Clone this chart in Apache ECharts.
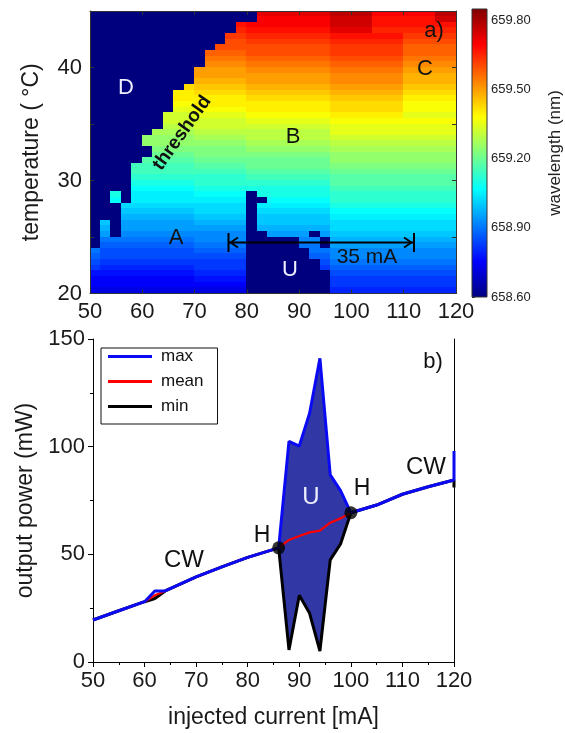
<!DOCTYPE html>
<html>
<head>
<meta charset="utf-8">
<title>wavelength map and output power</title>
<script src="https://cdn.jsdelivr.net/npm/echarts@6/dist/echarts.min.js"></script>
<style>
  html, body { margin: 0; padding: 0; background: #fff; }
  #main { width: 565px; height: 733px; }
</style>
</head>
<body>
<div id="main"></div>
<script>
// ---- a) wavelength map: 2 mA x 0.5 degC cells ----
// left edge of every current column (mA)
const colCurrents = [50, 52, 54, 56, 58, 60, 62, 64, 66, 68, 70, 72, 74, 76, 78, 80, 82, 84,
  86, 88, 90, 92, 94, 96, 98, 100, 102, 104, 106, 108, 110, 112, 114, 116, 118]
// bottom edge of every temperature row (degC), top row first
const rowTemps = [44.5, 44, 43.5, 43, 42.5, 42, 41.5, 41, 40.5, 40, 39.5, 39, 38.5, 38, 37.5, 37,
  36.5, 36, 35.5, 35, 34.5, 34, 33.5, 33, 32.5, 32, 31.5, 31, 30.5, 30, 29.5, 29, 28.5, 28,
  27.5, 27, 26.5, 26, 25.5, 25, 24.5, 24, 23.5, 23, 22.5, 22, 21.5, 21, 20.5, 20]
// wavelength level per cell, run length coded: "7T" = 7 cells of level T
// level chars below, each step +0.025 nm from 658.60 ; "." = no lasing (D / U regions)
const levelChars = 'abcdefghijklmnopqrstuvwxyzABCDEFGHIJKLMNOPQRSTUVWXY'
const wlRows = [
  '16. 7T 4V 6S 2V',
  '16. 7S 4U 6R 2U',
  '14. 1R 8S 4U 8R',
  '14. 1Q 8R 4T 8Q',
  '13. 2P 8Q 7R 5P',
  '13. 2O 8P 7Q 5O',
  '12. 11O 7P 5N',
  '11. 4N 8O 7P 5N',
  '11. 4M 8N 7O 5M',
  '11. 4L 8M 7N 5L',
  '10. 5K 8L 7M 5K',
  '10. 13K 7L 5J',
  '10. 5J 8K 7L 5J',
  '9. 1H 5I 8J 7K 5I',
  '8. 2G 5H 8I 7J 5H',
  '8. 7G 8H 7I 5G',
  '8. 2F 13G 7H 5F',
  '8. 2E 5F 8G 7H 5F',
  '7. 3D 5E 8F 7G 5E',
  '7. 8D 8E 12F',
  '7. 3C 13D 12E',
  '6. 4B 13C 12E',
  '5. 5A 5B 8C 12D',
  '5. 10A 8B 12C',
  '6. 9z 8A 12B',
  '6. 4y 13z 12A',
  '5. 5x 13y 12A',
  '4. 6w 5x 8y 12z',
  '4. 11w 8x 12y',
  '4. 11v 8w 12x',
  '4. 6u 13v 12x',
  '4. 6t 13u 12w',
  '2. 1u 1. 6s 5t 1. 7u 12v',
  '2. 1t 1. 11s 2. 6t 12v',
  '3. 12r 1. 7s 12u',
  '3. 7q 5r 1. 7r 12t',
  '3. 7p 5q 1. 7q 12s',
  '1. 1q 1. 7o 5p 1. 7q 12r',
  '1. 1p 1. 12o 1. 7p 12r',
  '1. 1o 1. 12n 2. 4o 1. 1o 12q',
  '1. 9m 5n 5. 2n 1. 12p',
  '1. 9l 5m 5. 2m 1. 12o',
  '1m 9k 5l 6. 2m 12n',
  '1l 14k 6. 2l 12n',
  '1k 14j 7. 1k 12m',
  '1j 9i 5j 7. 1j 12l',
  '10h 5i 8. 12k',
  '10g 5h 8. 12j',
  '15g 8. 12j',
  '15f 8. 12i'
]
const wlMin = 658.60
const wlMax = 659.85
const wlStep = 0.025
const cbTicks = 0.3

// ---- b) output power vs injected current ----
const current   = [50, 55, 60, 62, 64, 70, 75, 80, 86, 88, 90, 92, 94, 96, 98, 100, 105, 110, 115, 120, 120]
const powerMax  = [19.5, 23.8, 28, 33, 33, 39.5, 44.2, 48.6, 53, 102.5, 100.3, 115.5, 141, 86.9, 79.6, 69.3, 72.9, 77.9, 81.4, 84.5, 98]
const powerMean = [19.5, 23.8, 28, 31, 33, 39.5, 44.2, 48.6, 53, 56.7, 58.5, 60.2, 61, 64.7, 66.7, 69.3, 72.9, 77.9, 81.4, 84.5, 84.5]
const powerMin  = [19.5, 23.8, 28, 29.5, 33, 39.5, 44.2, 48.6, 53, 5.6, 31, 22.6, 5.1, 47.4, 54.8, 69.3, 72.9, 77.9, 81.4, 84.5, 81]
const hopfCurrent = [86, 100]
const hopfPower = [53, 69.3]
const unstableFrom = 86
const unstableTo = 100

const jetColors = ['#00007f', '#0000ff', '#007fff', '#00ffff', '#7fff7f', '#ffff00', '#ff7f00', '#ff0000', '#7f0000']
const font = 'Liberation Sans, Arial, sans-serif'

// decode the map
const cells = []
rowTemps.forEach((t, r) => {
  let c = 0
  wlRows[r].split(' ').forEach(run => {
    const n = parseInt(run, 10)
    const ch = run[run.length - 1]
    for (let k = 0; k < n; k++) {
      const v = ch === '.' ? wlMin : wlMin + wlStep * levelChars.indexOf(ch)
      cells.push([colCurrents[c], t, v])
      c++
    }
  })
})

const zip = (xs, ys) => xs.map((x, i) => [x, ys[i]])

// band between min and max inside the unstable range
const bandTop = [], bandBottom = []
current.forEach((x, i) => {
  if (x >= unstableFrom && x <= unstableTo) {
    bandTop.push([x, powerMax[i]])
    bandBottom.push([x, powerMin[i]])
  }
})

function renderCell(params, api) {
  const x0 = api.value(0)
  const t0 = api.value(1)
  const a = api.coord([x0, t0 + 0.5])
  const b = api.coord([x0 + 2, t0])
  const x = Math.floor(a[0]), y = Math.floor(a[1])
  return {
    type: 'rect',
    shape: { x: x, y: y, width: Math.ceil(b[0]) - x, height: Math.ceil(b[1]) - y },
    style: { fill: api.visual('color') }
  }
}

function renderColorbar(params, api) {
  const a = api.coord([0, wlMax - wlMin])
  const b = api.coord([1, 0])
  const stops = jetColors.map((c, i) => ({ offset: i / (jetColors.length - 1), color: c }))
  return {
    type: 'rect',
    shape: { x: a[0], y: a[1], width: b[0] - a[0], height: b[1] - a[1] },
    style: { fill: new echarts.graphic.LinearGradient(0, 1, 0, 0, stops), stroke: '#333', lineWidth: 1 }
  }
}

function renderBand(params, api) {
  const pts = bandTop.map(p => api.coord(p))
    .concat(bandBottom.slice().reverse().map(p => api.coord(p)))
  return {
    type: 'polygon',
    shape: { points: pts },
    style: { fill: '#3138a6' }
  }
}

// text annotation helper
function note(x, y, text, size, color, extra) {
  return Object.assign({
    type: 'text', x: x, y: y, z: 100,
    style: { text: text, fontSize: size, fill: color, align: 'center', verticalAlign: 'middle', fontFamily: font }
  }, extra || {})
}
function stroke(type, shape, width) {
  return { type: type, z: 100, shape: shape, style: { stroke: '#000', lineWidth: width, fill: null } }
}

const label = { fontSize: 22, color: '#1a1a1a', fontFamily: font }
const frame = { show: true, lineStyle: { color: '#000', width: 1 } }

const option = {
  animation: false,
  textStyle: { fontFamily: font },
  grid: [
    { left: 90, top: 11, width: 366, height: 282.5 },
    { left: 472, top: 9, width: 15, height: 288 },
    { left: 93, top: 339, width: 361, height: 323 }
  ],
  visualMap: {
    type: 'continuous', show: false, seriesIndex: 0, dimension: 2,
    min: wlMin, max: wlMax, inRange: { color: jetColors }
  },
  legend: {
    data: ['max', 'mean', 'min'],
    orient: 'vertical', left: 101, top: 348,
    icon: 'rect', itemWidth: 44, itemHeight: 3, itemGap: 8,
    padding: [0, 14, 9, 7],
    borderColor: '#111', borderWidth: 1, borderRadius: 0,
    textStyle: { fontSize: 17, lineHeight: 15, color: '#111', padding: [0, 0, 0, 4] }
  },
  xAxis: [
    {
      gridIndex: 0, type: 'value', min: 50, max: 120, interval: 10, z: 10,
      axisLine: { show: true, lineStyle: { color: '#333' } },
      axisTick: { inside: true, length: 4, lineStyle: { color: '#333' } },
      axisLabel: Object.assign({ margin: 7 }, label),
      splitLine: { show: false }
    },
    {
      gridIndex: 0, type: 'value', position: 'top', min: 50, max: 120, interval: 10, z: 10,
      axisLine: { show: true, lineStyle: { color: '#333' } },
      axisTick: { inside: true, length: 4, lineStyle: { color: '#333' } },
      axisLabel: { show: false }, splitLine: { show: false }
    },
    {
      gridIndex: 2, type: 'value', min: 50, max: 120, interval: 10,
      name: 'injected current [mA]', nameLocation: 'middle', nameGap: 44,
      nameTextStyle: { fontSize: 23, color: '#1a1a1a' },
      axisLine: frame,
      axisTick: { length: 5, lineStyle: { color: '#000' } },
      minorTick: { show: true, splitNumber: 2, length: 3, lineStyle: { color: '#000' } },
      axisLabel: Object.assign({ margin: 8 }, label),
      splitLine: { show: false }
    },
    {
      gridIndex: 2, type: 'value', position: 'top', min: 50, max: 120,
      axisLine: frame, axisTick: { show: false }, axisLabel: { show: false }, splitLine: { show: false }
    },
    { gridIndex: 1, type: 'value', min: 0, max: 1, show: false }
  ],
  yAxis: [
    {
      gridIndex: 0, type: 'value', min: 20, max: 45, interval: 5, z: 10,
      name: 'temperature ( \u00b0C)', nameLocation: 'middle', nameGap: 47,
      nameTextStyle: { fontSize: 23, color: '#1a1a1a' },
      axisLine: { show: true, lineStyle: { color: '#333' } },
      axisTick: { inside: true, length: 4, lineStyle: { color: '#333' } },
      axisLabel: Object.assign({ margin: 8, showMaxLabel: false, formatter: v => (v % 10 === 0 ? v : '') }, label),
      splitLine: { show: false }
    },
    {
      gridIndex: 0, type: 'value', position: 'right', min: 20, max: 45, interval: 5, z: 10,
      axisLine: { show: true, lineStyle: { color: '#333' } },
      axisTick: { inside: true, length: 4, lineStyle: { color: '#333' } },
      axisLabel: { show: false }, splitLine: { show: false }
    },
    {
      gridIndex: 2, type: 'value', min: 0, max: 150, interval: 50,
      name: 'output power (mW)', nameLocation: 'middle', nameGap: 44,
      nameTextStyle: { fontSize: 23, color: '#1a1a1a' },
      axisLine: frame,
      axisTick: { length: 5, lineStyle: { color: '#000' } },
      minorTick: { show: true, splitNumber: 2, length: 3, lineStyle: { color: '#000' } },
      axisLabel: Object.assign({ margin: 8 }, label),
      splitLine: { show: false }
    },
    {
      gridIndex: 2, type: 'value', position: 'right', min: 0, max: 150,
      axisLine: frame, axisTick: { show: false }, axisLabel: { show: false }, splitLine: { show: false }
    },
    {
      gridIndex: 1, type: 'value', position: 'right', min: 0, max: wlMax - wlMin, interval: cbTicks,
      name: 'wavelength (nm)', nameLocation: 'middle', nameGap: 60, nameRotate: 90,
      nameTextStyle: { fontSize: 17, color: '#222' },
      axisLine: { show: false },
      axisTick: { length: 3, lineStyle: { color: '#333' } },
      minorTick: { show: true, splitNumber: 2, length: 2, lineStyle: { color: '#333' } },
      axisLabel: { fontSize: 13, color: '#222', margin: 4, showMaxLabel: false, formatter: v => (wlMin + v).toFixed(2) },
      splitLine: { show: false }
    }
  ],
  series: [
    {
      type: 'custom', name: 'map', xAxisIndex: 0, yAxisIndex: 0,
      renderItem: renderCell, clip: true, progressive: 0,
      dimensions: ['current', 'temp', 'wl'], encode: { x: 0, y: 1 },
      data: cells
    },
    {
      type: 'custom', name: 'bar', xAxisIndex: 4, yAxisIndex: 4,
      renderItem: renderColorbar, data: [[0, 0]]
    },
    {
      type: 'custom', name: 'band', xAxisIndex: 2, yAxisIndex: 2,
      renderItem: renderBand, data: [[unstableFrom, 0]], z: 1, silent: true
    },
    {
      type: 'line', name: 'min', xAxisIndex: 2, yAxisIndex: 2, data: zip(current, powerMin),
      showSymbol: false, lineStyle: { color: '#000', width: 3 }, itemStyle: { color: '#000' }, z: 3
    },
    {
      type: 'line', name: 'mean', xAxisIndex: 2, yAxisIndex: 2, data: zip(current, powerMean),
      showSymbol: false, lineStyle: { color: '#ff0000', width: 2.2 }, itemStyle: { color: '#ff0000' }, z: 4
    },
    {
      type: 'line', name: 'max', xAxisIndex: 2, yAxisIndex: 2, data: zip(current, powerMax),
      showSymbol: false, lineStyle: { color: '#0a0af5', width: 3 }, itemStyle: { color: '#0a0af5' }, z: 5
    },
    {
      type: 'scatter', name: 'H', xAxisIndex: 2, yAxisIndex: 2, data: zip(hopfCurrent, hopfPower),
      symbolSize: 13, itemStyle: { color: '#000' }, z: 6
    }
  ],
  graphic: [
    // a) annotations
    note(126, 88, 'D', 22, '#eef'),
    note(182, 133, 'threshold', 19, '#111', { rotation: 54.5 * Math.PI / 180 }),
    note(176, 238, 'A', 22, '#111'),
    note(293, 137, 'B', 22, '#111'),
    note(425, 69, 'C', 22, '#111'),
    note(290, 270, 'U', 22, '#eef'),
    note(434, 31, 'a)', 22, '#111'),
    note(367, 257, '35 mA', 21, '#111'),
    // 35 mA span arrow
    stroke('line', { x1: 229, y1: 242.5, x2: 413, y2: 242.5 }, 1.8),
    stroke('line', { x1: 228.5, y1: 233, x2: 228.5, y2: 252 }, 2),
    stroke('line', { x1: 414, y1: 233, x2: 414, y2: 252 }, 2),
    stroke('polyline', { points: [[238, 237.5], [230.5, 242.5], [238, 247.5]] }, 1.8),
    stroke('polyline', { points: [[404, 237.5], [411.5, 242.5], [404, 247.5]] }, 1.8),
    // b) annotations
    note(184, 560, 'CW', 24, '#111'),
    note(426, 467, 'CW', 24, '#111'),
    note(262, 536, 'H', 23, '#111'),
    note(362, 489, 'H', 23, '#111'),
    note(311, 497, 'U', 24, '#eef'),
    note(433, 362, 'b)', 22, '#111')
  ]
}
option.graphic[1].style.fontWeight = 'bold'

const chart = echarts.init(document.getElementById('main'))
chart.setOption(option)
</script>
</body>
</html>
